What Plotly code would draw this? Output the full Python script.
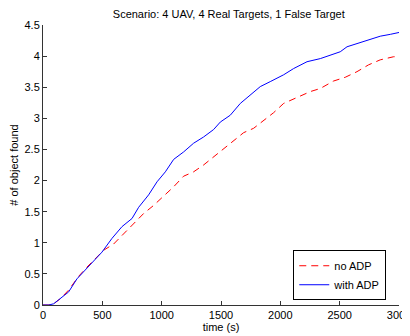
import plotly.graph_objects as go

# Time points (s) and mean number of objects found
t_with = [0, 50, 90, 146, 216, 286, 399, 497, 581, 666, 750, 806, 890, 961, 1031, 1101,
          1185, 1269, 1353, 1438, 1494, 1578, 1663, 1747, 1831, 1915, 2028, 2112, 2225,
          2337, 2421, 2505, 2562, 2674, 2758, 2842, 2927, 3000]
y_with = [0, 0, 0.02, 0.10, 0.21, 0.42, 0.65, 0.85, 1.07, 1.26, 1.39, 1.57, 1.77, 1.98,
          2.14, 2.34, 2.46, 2.60, 2.70, 2.82, 2.94, 3.05, 3.24, 3.37, 3.51, 3.59, 3.70,
          3.80, 3.91, 3.96, 4.02, 4.07, 4.15, 4.22, 4.27, 4.32, 4.35, 4.38]

t_no = [0, 50, 90, 146, 216, 300, 371, 511, 595, 680, 764, 848, 932, 1016, 1101, 1185,
        1269, 1353, 1438, 1522, 1606, 1691, 1775, 1859, 1943, 2028, 2140, 2253, 2337,
        2449, 2547, 2646, 2744, 2842, 2955, 3000]
y_no = [0, 0, 0.02, 0.10, 0.24, 0.46, 0.61, 0.88, 0.98, 1.15, 1.31, 1.47, 1.60, 1.75,
        1.90, 2.07, 2.14, 2.25, 2.38, 2.52, 2.65, 2.77, 2.84, 2.97, 3.09, 3.24, 3.34,
        3.43, 3.48, 3.60, 3.66, 3.75, 3.86, 3.94, 3.99, 3.99]

x_ticks = [0, 500, 1000, 1500, 2000, 2500, 3000]
y_ticks = [0, 0.5, 1, 1.5, 2, 2.5, 3, 3.5, 4, 4.5]

FONT = "Liberation Sans, Arial, Helvetica, sans-serif"

fig = go.Figure()
fig.add_trace(go.Scatter(x=t_no, y=y_no, mode="lines", name="no ADP",
                         line=dict(color="#ff0000", width=1, dash="7px,5px")))
fig.add_trace(go.Scatter(x=t_with, y=y_with, mode="lines", name="with ADP",
                         line=dict(color="#0000ff", width=1)))

axis_common = dict(showgrid=False, zeroline=False, showline=True, linecolor="#333",
                   linewidth=1, ticks="inside", ticklen=4, tickcolor="#333",
                   automargin=False, ticklabeloverflow="allow",
                   tickfont=dict(family=FONT, size=11, color="#000"))

# page has an 8px body margin; figure offset accordingly
fig.update_layout(
    width=410, height=328,
    margin=dict(l=35, r=19, t=17, b=31),
    paper_bgcolor="white", plot_bgcolor="white",
    title=dict(text="Scenario: 4 UAV, 4 Real Targets, 1 False Target",
               font=dict(family=FONT, size=11, color="#000"),
               x=0.5385, xanchor="center", y=0.980, yanchor="middle"),
    xaxis=dict(range=[0, 3000], tickvals=x_ticks,
               title=dict(text="time (s)", font=dict(family=FONT, size=11, color="#000"),
                          standoff=0),
               **axis_common),
    yaxis=dict(range=[0, 4.5], tickvals=y_ticks,
               title=dict(text="# of object found", font=dict(family=FONT, size=11, color="#000"),
                          standoff=4),
               **axis_common),
    legend=dict(x=0.703, y=0.017, xanchor="left", yanchor="bottom",
                bordercolor="#000", borderwidth=1, bgcolor="white",
                font=dict(family=FONT, size=11, color="#000"),
                tracegroupgap=0, itemwidth=30),
    showlegend=True,
)

fig.write_html("out.html")
